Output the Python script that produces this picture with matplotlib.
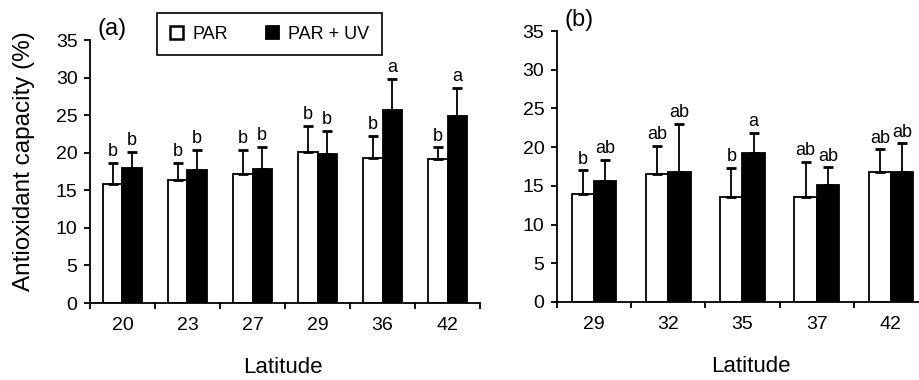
import numpy as np
import matplotlib
matplotlib.use('agg')
import matplotlib.pyplot as plt
from matplotlib.patches import Patch

plt.rcParams['font.family'] = ['Liberation Sans', 'DejaVu Sans']

# panel (a)
lat_a = ['20', '23', '27', '29', '36', '42']
par_a = [15.9, 16.4, 17.2, 20.1, 19.3, 19.2]
par_a_sd = [2.7, 2.2, 3.2, 3.5, 2.9, 1.5]
uv_a = [18.0, 17.7, 17.9, 19.9, 25.7, 24.9]
uv_a_sd = [2.1, 2.7, 2.9, 3.0, 4.1, 3.7]
let_par_a = ['b', 'b', 'b', 'b', 'b', 'b']
let_uv_a = ['b', 'b', 'b', 'b', 'a', 'a']

# panel (b)
lat_b = ['29', '32', '35', '37', '42']
par_b = [13.9, 16.5, 13.6, 13.6, 16.8]
par_b_sd = [3.1, 3.7, 3.7, 4.5, 2.9]
uv_b = [15.6, 16.8, 19.3, 15.1, 16.8]
uv_b_sd = [2.8, 6.2, 2.5, 2.3, 3.7]
let_par_b = ['b', 'ab', 'b', 'ab', 'ab']
let_uv_b = ['ab', 'ab', 'a', 'ab', 'ab']


def draw_panel(ax, labels, par, par_sd, uv, uv_sd, let_par, let_uv, tag):
    x = np.arange(len(labels))
    w = 0.3
    ax.bar(x - w/2, par, w, color='white', edgecolor='black', linewidth=1.3, zorder=2)
    ax.bar(x + w/2, uv, w, color='black', edgecolor='black', linewidth=1.3, zorder=2)
    ax.errorbar(x - w/2, par, yerr=[np.zeros(len(par)), par_sd], fmt='none',
                ecolor='black', elinewidth=1.3, capsize=3.5, capthick=2, zorder=3)
    ax.errorbar(x + w/2, uv, yerr=[np.zeros(len(uv)), uv_sd], fmt='none',
                ecolor='black', elinewidth=1.3, capsize=3.5, capthick=2, zorder=3)
    for i in range(len(labels)):
        ax.annotate(let_par[i], (x[i] - w/2, par[i] + par_sd[i]), xytext=(0, 2),
                    textcoords='offset points', ha='center', va='bottom', fontsize=13)
        ax.annotate(let_uv[i], (x[i] + w/2, uv[i] + uv_sd[i]), xytext=(0, 2),
                    textcoords='offset points', ha='center', va='bottom', fontsize=13)

    ax.set_xlim(-0.5, len(labels) - 0.5)
    ax.set_ylim(0, 35)
    ax.set_yticks(range(0, 36, 5))
    ax.set_xticks(x)
    ax.set_xticklabels(labels)
    ax.set_xticks(np.arange(len(labels) + 1) - 0.5, minor=True)
    ax.tick_params(axis='x', which='major', length=0, pad=10, labelsize=14)
    ax.tick_params(axis='x', which='minor', length=4, width=1.3, direction='out')
    ax.tick_params(axis='y', length=4, width=1.3, direction='out', pad=5, labelsize=14)
    for s in ['top', 'right']:
        ax.spines[s].set_visible(False)
    for s in ['left', 'bottom']:
        ax.spines[s].set_linewidth(1.3)
    ax.set_xlabel('Latitude', fontsize=16)
    ax.text(0.02, 1.0, tag, transform=ax.transAxes, fontsize=17, ha='left', va='bottom')


fig = plt.figure(figsize=(9.2, 3.8), dpi=100)
ax1 = fig.add_axes([0.0978, 0.2026, 0.424, 0.692])
ax2 = fig.add_axes([0.6054, 0.2053, 0.4033, 0.713])

draw_panel(ax1, lat_a, par_a, par_a_sd, uv_a, uv_a_sd, let_par_a, let_uv_a, '(a)')
draw_panel(ax2, lat_b, par_b, par_b_sd, uv_b, uv_b_sd, let_par_b, let_uv_b, '(b)')

ax1.set_ylabel('Antioxidant capacity (%)', fontsize=17.5)
ax1.yaxis.set_label_coords(-0.14, 0.54)
ax1.xaxis.set_label_coords(0.495, -0.205)
ax2.xaxis.set_label_coords(0.523, -0.2)

handles = [Patch(facecolor='white', edgecolor='black', linewidth=1.8, label='PAR'),
           Patch(facecolor='black', edgecolor='black', linewidth=1.3, label='PAR + UV')]
leg = fig.legend(handles=handles, loc='upper left', bbox_to_anchor=(157/920, 1 - 13/380),
                 ncol=2, fontsize=13, handlelength=0.75, handleheight=0.75,
                 handletextpad=0.5, columnspacing=2.1, borderpad=0.7, borderaxespad=0,
                 fancybox=False, framealpha=1, edgecolor='black')
leg.get_frame().set_linewidth(1.2)

fig.savefig('out.png', dpi=100)
